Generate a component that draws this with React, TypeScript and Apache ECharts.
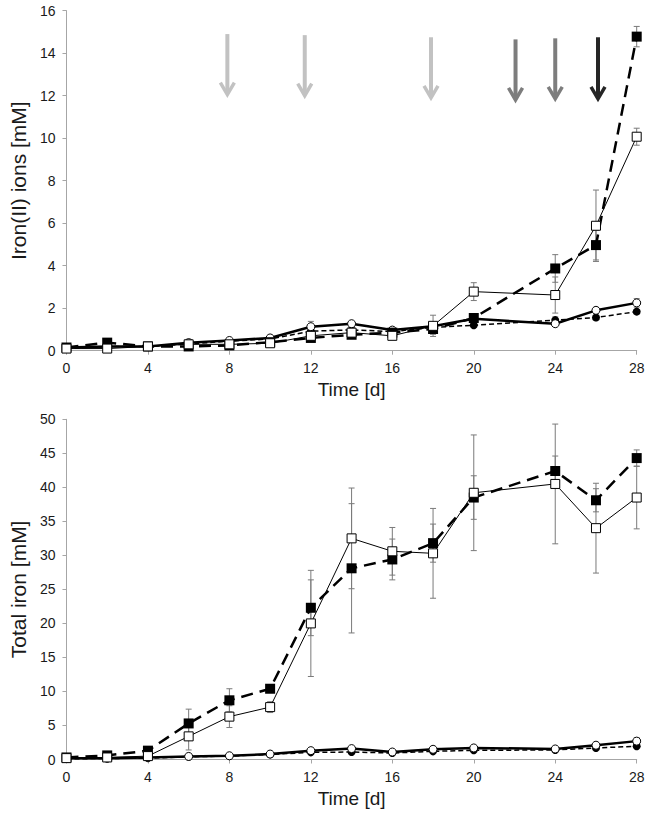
import React, { useEffect, useRef } from "react";
import * as echarts from "echarts";

// ---- data ----
const days = [0, 2, 4, 6, 8, 10, 12, 14, 16, 18, 20, 24, 26, 28];

// Iron(II) ions [mM]
const fe2FilledSquare = [0.15, 0.38, 0.2, 0.2, 0.25, 0.4, 0.6, 0.75, 0.85, 1.02, 1.54, 3.87, 4.97, 14.78];
const fe2OpenSquare = [0.1, 0.1, 0.2, 0.3, 0.3, 0.35, 0.7, 0.85, 0.7, 1.17, 2.78, 2.62, 5.88, 10.07];
const fe2FilledCircle = [0.1, 0.2, 0.2, 0.32, 0.45, 0.55, 0.92, 0.98, 0.9, 1.1, 1.2, 1.44, 1.56, 1.84];
const fe2OpenCircle = [0.15, 0.2, 0.2, 0.38, 0.48, 0.6, 1.13, 1.27, 0.97, 1.15, 1.5, 1.27, 1.9, 2.25];
const fe2FilledSquareErr = [0.05, 0.05, 0.05, 0.05, 0.05, 0.1, 0.1, 0.15, 0.1, 0.25, 0.1, 0.65, 0.7, 0.48];
const fe2OpenSquareErr = [0.05, 0.05, 0.05, 0.1, 0.1, 0.1, 0.15, 0.15, 0.1, 0.5, 0.42, 0.85, 1.68, 0.4];
const fe2FilledCircleErr = [0.05, 0.05, 0.05, 0.05, 0.05, 0.05, 0.1, 0.1, 0.05, 0.1, 0.1, 0.15, 0.1, 0.1];
const fe2OpenCircleErr = [0.05, 0.05, 0.05, 0.15, 0.05, 0.1, 0.25, 0.1, 0.1, 0.1, 0.1, 0.1, 0.1, 0.2];

// Total iron [mM]
const totFilledSquare = [0.3, 0.6, 1.3, 5.3, 8.7, 10.4, 22.3, 28.1, 29.4, 31.8, 38.5, 42.4, 38.1, 44.3];
const totOpenSquare = [0.2, 0.3, 0.5, 3.4, 6.3, 7.7, 20.0, 32.5, 30.6, 30.3, 39.2, 40.5, 34.0, 38.5];
const totFilledCircle = [0.1, 0.15, 0.2, 0.4, 0.5, 0.75, 1.05, 1.1, 0.95, 1.2, 1.35, 1.4, 1.7, 1.95];
const totOpenCircle = [0.2, 0.2, 0.3, 0.45, 0.55, 0.8, 1.3, 1.6, 1.1, 1.5, 1.7, 1.55, 2.1, 2.7];
const totFilledSquareErr = [0.1, 0.1, 0.2, 2.1, 1.7, 0.3, 4.1, 9.5, 3.0, 2.8, 3.2, 2.2, 1.7, 1.2];
const totOpenSquareErr = [0.1, 0.1, 0.1, 2.0, 1.6, 0.8, 7.8, 7.4, 3.5, 6.6, 8.5, 8.8, 6.6, 4.6];
const totFilledCircleErr = [0.1, 0.1, 0.1, 0.1, 0.1, 0.1, 0.2, 0.2, 0.1, 0.2, 0.2, 0.2, 0.2, 0.2];
const totOpenCircleErr = [0.1, 0.1, 0.1, 0.1, 0.1, 0.1, 0.2, 0.3, 0.1, 0.2, 0.2, 0.2, 0.2, 0.5];

// Arrows (top panel)
const arrowDays = [7.9, 11.7, 17.9, 22.05, 24.0, 26.1];
const arrowTops = [14.9, 14.85, 14.75, 14.65, 14.7, 14.75];
const arrowTips = [12.05, 12.0, 11.9, 11.8, 11.85, 11.85];
const arrowShades = ["light", "light", "light", "mid", "mid", "dark"];

const xTicks = { min: 0, max: 28, interval: 4 };
const fe2Ticks = { min: 0, max: 16, interval: 2 };
const totTicks = { min: 0, max: 50, interval: 5 };

const FONT = '"Liberation Sans", Arial, Helvetica, sans-serif';
const AXIS_COLOR = "#a6a6a6";
const TEXT_COLOR = "#1a1a1a";
const SHADE_COLORS: Record<string, string> = { light: "#c2c2c2", mid: "#7d7d7d", dark: "#262626" };

function errData(vals: number[], errs: number[]) {
  return days.map((d, i) => [d, vals[i] - errs[i], vals[i] + errs[i]]);
}

function errorSeries(vals: number[], errs: number[], idx: number) {
  return {
    type: "custom",
    xAxisIndex: idx,
    yAxisIndex: idx,
    z: 1,
    silent: true,
    encode: { x: 0, y: [1, 2] },
    data: errData(vals, errs),
    renderItem: (params: any, api: any) => {
      const x = api.value(0);
      const lo = api.coord([x, api.value(1)]);
      const hi = api.coord([x, api.value(2)]);
      const cap = 3;
      const style = { stroke: "#7a7a7a", lineWidth: 1 };
      return {
        type: "group",
        children: [
          { type: "line", shape: { x1: lo[0], y1: lo[1], x2: hi[0], y2: hi[1] }, style },
          { type: "line", shape: { x1: lo[0] - cap, y1: lo[1], x2: lo[0] + cap, y2: lo[1] }, style },
          { type: "line", shape: { x1: hi[0] - cap, y1: hi[1], x2: hi[0] + cap, y2: hi[1] }, style },
        ],
      };
    },
  };
}

function lineSeries(vals: number[], idx: number, kind: string) {
  const base: any = {
    type: "line",
    xAxisIndex: idx,
    yAxisIndex: idx,
    z: 3,
    data: days.map((d, i) => [d, vals[i]]),
    showSymbol: true,
  };
  if (kind === "fs") {
    base.symbol = "rect";
    base.symbolSize = 10;
    base.itemStyle = { color: "#000" };
    base.lineStyle = { color: "#000", width: 2.5, type: [12, 7] };
    base.z = 5;
  } else if (kind === "os") {
    base.symbol = "rect";
    base.symbolSize = 9;
    base.itemStyle = { color: "#fff", borderColor: "#000", borderWidth: 1 };
    base.lineStyle = { color: "#000", width: 1 };
    base.z = 6;
  } else if (kind === "fc") {
    base.symbol = "circle";
    base.symbolSize = 8;
    base.itemStyle = { color: "#000" };
    base.lineStyle = { color: "#000", width: 1.5, type: [5, 3] };
    base.z = 3;
  } else {
    base.symbol = "circle";
    base.symbolSize = 8;
    base.itemStyle = { color: "#fff", borderColor: "#000", borderWidth: 1 };
    base.lineStyle = { color: "#000", width: 2.5 };
    base.z = 4;
  }
  return base;
}

function xAxis(idx: number) {
  return {
    type: "value",
    gridIndex: idx,
    ...xTicks,
    name: "Time [d]",
    nameLocation: "middle",
    nameGap: 29,
    nameTextStyle: { fontFamily: FONT, fontSize: 19, color: TEXT_COLOR },
    axisLine: { show: true, onZero: false, lineStyle: { color: AXIS_COLOR, width: 1 } },
    axisTick: { show: true, length: 4, lineStyle: { color: AXIS_COLOR } },
    axisLabel: { fontFamily: FONT, fontSize: 14, color: TEXT_COLOR, margin: 10 },
    splitLine: { show: false },
  };
}

function yAxis(idx: number, ticks: any, name: string) {
  return {
    type: "value",
    gridIndex: idx,
    ...ticks,
    name,
    nameLocation: "middle",
    nameGap: 29,
    nameTextStyle: { fontFamily: FONT, fontSize: 21, color: TEXT_COLOR },
    axisLine: { show: true, lineStyle: { color: AXIS_COLOR, width: 1 } },
    axisTick: { show: true, length: 4, lineStyle: { color: AXIS_COLOR } },
    axisLabel: { fontFamily: FONT, fontSize: 14, color: TEXT_COLOR, margin: 11 },
    splitLine: { show: false },
  };
}

const arrowSeries = {
  type: "custom",
  xAxisIndex: 0,
  yAxisIndex: 0,
  z: 2,
  silent: true,
  encode: { x: 0, y: [1, 2] },
  data: arrowDays.map((d, i) => [d, arrowTops[i], arrowTips[i], i]),
  renderItem: (params: any, api: any) => {
    const x = api.value(0);
    const top = api.coord([x, api.value(1)]);
    const tip = api.coord([x, api.value(2)]);
    const color = SHADE_COLORS[arrowShades[api.value(3)]];
    const hw = 7;
    const hh = 12;
    return {
      type: "group",
      children: [
        {
          type: "line",
          shape: { x1: top[0], y1: top[1], x2: tip[0], y2: tip[1] - 3 },
          style: { stroke: color, lineWidth: 4 },
        },
        {
          type: "polyline",
          shape: {
            points: [
              [tip[0] - hw, tip[1] - hh],
              [tip[0], tip[1]],
              [tip[0] + hw, tip[1] - hh],
            ],
          },
          style: { stroke: color, lineWidth: 3.5, fill: "none", lineJoin: "miter" },
        },
      ],
    };
  },
};

export default function App() {
  const ref = useRef<HTMLDivElement>(null);
  useEffect(() => {
    if (!ref.current) return;
    const chart = echarts.init(ref.current, undefined, { renderer: "svg" });
    chart.setOption({
      animation: false,
      backgroundColor: "#ffffff",
      textStyle: { fontFamily: FONT },
      grid: [
        { left: 54.3, right: 12.3, top: 10.7, height: 340 },
        { left: 54.3, right: 12.3, top: 419.3, height: 340.2 },
      ],
      xAxis: [xAxis(0), xAxis(1)],
      yAxis: [yAxis(0, fe2Ticks, "Iron(II) ions [mM]"), yAxis(1, totTicks, "Total iron [mM]")],
      series: [
        arrowSeries,
        errorSeries(fe2FilledSquare, fe2FilledSquareErr, 0),
        errorSeries(fe2OpenSquare, fe2OpenSquareErr, 0),
        errorSeries(fe2FilledCircle, fe2FilledCircleErr, 0),
        errorSeries(fe2OpenCircle, fe2OpenCircleErr, 0),
        lineSeries(fe2FilledCircle, 0, "fc"),
        lineSeries(fe2OpenCircle, 0, "oc"),
        lineSeries(fe2FilledSquare, 0, "fs"),
        lineSeries(fe2OpenSquare, 0, "os"),
        errorSeries(totFilledSquare, totFilledSquareErr, 1),
        errorSeries(totOpenSquare, totOpenSquareErr, 1),
        errorSeries(totFilledCircle, totFilledCircleErr, 1),
        errorSeries(totOpenCircle, totOpenCircleErr, 1),
        lineSeries(totFilledCircle, 1, "fc"),
        lineSeries(totOpenCircle, 1, "oc"),
        lineSeries(totFilledSquare, 1, "fs"),
        lineSeries(totOpenSquare, 1, "os"),
      ],
    });
    return () => chart.dispose();
  }, []);
  return (
    <div
      ref={ref}
      style={{ position: "fixed", left: 0, top: 0, width: 649, height: 816, background: "#fff" }}
    />
  );
}
